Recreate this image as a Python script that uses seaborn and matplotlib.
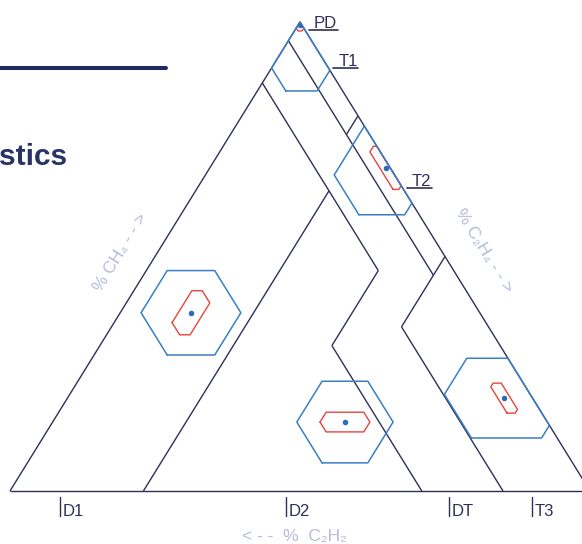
from itertools import combinations

import matplotlib
matplotlib.use("Agg")
import matplotlib.pyplot as plt
import numpy as np
import pandas as pd
import seaborn as sns
from matplotlib.patches import Polygon

# Duval triangle 1 zone limits (%)
T1_C2H4 = 20
T2_C2H4 = 50
T_C2H2 = 4
D1_C2H4 = 23
D_C2H2 = 13
D2_C2H4 = 40
D2_C2H2 = 29
T3_C2H2 = 15

# gas samples (% CH4, % C2H4, % C2H2)
samples = ["PD", "T2", "D1", "D2", "T3"]
ch4 = [99.4, 68.9, 38.0, 14.7, 19.8]
c2h4 = [0.3, 30.4, 12.2, 50.4, 75.3]
c2h2 = [0.3, 0.7, 49.8, 34.9, 4.9]

# uncertainty (+/- %), wide and narrow
err_out_ch4 = [14.1, 10.0, 9.0, 8.7, 8.5]
err_out_c2h4 = [10.0, 8.2, 8.6, 8.3, 10.7]
err_out_c2h2 = [9.5, 9.7, 8.6, 8.3, 9.9]
err_in_ch4 = [1.3, 4.6, 4.7, 2.1, 3.2]
err_in_c2h4 = [1.0, 4.5, 2.2, 4.3, 3.5]
err_in_c2h2 = [1.0, 1.1, 4.3, 4.3, 1.1]

zone_labels = ["D1", "D2", "DT", "T3"]
zone_label_x = [60, 286, 449, 532]

DARK = "#2d3058"
BLUE = "#3a7fc6"
RED = "#e6453c"
LIGHT = "#b3bcdb"


def tern(a, b, c):
    # a = CH4 (top), b = C2H4 (right), c = C2H2 (left)
    a = np.asarray(a, float) / 100
    b = np.asarray(b, float) / 100
    return b + a / 2, a


def pix(px, py):
    return (px - 10) / 580, (491 - py) / 469


def hexagon(center, err):
    lo = [max(0.0, c - e) for c, e in zip(center, err)]
    hi = [min(100.0, c + e) for c, e in zip(center, err)]
    # constraints in (u=CH4, v=C2H4): A @ [u, v] <= b
    A = [(-1, 0), (1, 0), (0, -1), (0, 1), (1, 1), (-1, -1)]
    B = [-lo[0], hi[0], -lo[1], hi[1], 100 - lo[2], hi[2] - 100]
    pts = []
    for i, j in combinations(range(6), 2):
        M = np.array([A[i], A[j]], float)
        if abs(np.linalg.det(M)) < 1e-9:
            continue
        p = np.linalg.solve(M, [B[i], B[j]])
        if all(np.dot(A[k], p) <= B[k] + 1e-7 for k in range(6)):
            if not any(np.allclose(p, q) for q in pts):
                pts.append(p)
    pts = np.array(pts)
    x, y = tern(pts[:, 0], pts[:, 1], 100 - pts[:, 0] - pts[:, 1])
    cx, cy = x.mean(), y.mean()
    order = np.argsort(np.arctan2((y - cy) * 469, (x - cx) * 580))
    x, y = x[order], y[order]
    return np.append(x, x[0]), np.append(y, y[0])


sns.set_theme(style="white")
plt.rcParams["font.family"] = ["Liberation Sans", "DejaVu Sans"]

fig = plt.figure(figsize=(5.82, 5.44), dpi=100)
ax = fig.add_axes([0, 0, 1, 1])
ax.set_xlim(pix(0, 0)[0], pix(582, 0)[0])
ax.set_ylim(pix(0, 544)[1], pix(0, 0)[1])
ax.axis("off")

# triangle and zone boundaries
segments = [
    ((100, 0, 0), (0, 0, 100)),
    ((100, 0, 0), (0, 100, 0)),
    ((0, 0, 100), (0, 100, 0)),
    ((100 - D_C2H2, 0, D_C2H2), (100 - D_C2H2 - D2_C2H4, D2_C2H4, D_C2H2)),
    ((100 - D_C2H2 - D1_C2H4, D1_C2H4, D_C2H2), (0, D1_C2H4, 100 - D1_C2H4)),
    ((100 - D_C2H2 - D2_C2H4, D2_C2H4, D_C2H2), (100 - D2_C2H2 - D2_C2H4, D2_C2H4, D2_C2H2)),
    ((100 - D2_C2H2 - D2_C2H4, D2_C2H4, D2_C2H2), (0, 100 - D2_C2H2, D2_C2H2)),
    ((100 - T_C2H2, 0, T_C2H2), (100 - T_C2H2 - T2_C2H4, T2_C2H4, T_C2H2)),
    ((100 - T1_C2H4, T1_C2H4, 0), (100 - T1_C2H4 - T_C2H2, T1_C2H4, T_C2H2)),
    ((100 - T2_C2H4, T2_C2H4, 0), (100 - T2_C2H4 - T3_C2H2, T2_C2H4, T3_C2H2)),
    ((100 - T2_C2H4 - T3_C2H2, T2_C2H4, T3_C2H2), (0, 100 - T3_C2H2, T3_C2H2)),
]
for p, q in segments:
    x, y = tern(*zip(p, q))
    ax.plot(x, y, color=DARK, lw=1.0, zorder=1, solid_capstyle="butt")

# uncertainty hexagons
for i in range(len(samples)):
    c = (ch4[i], c2h4[i], c2h2[i])
    hx, hy = hexagon(c, (err_out_ch4[i], err_out_c2h4[i], err_out_c2h2[i]))
    ax.plot(hx, hy, color=BLUE, lw=1.1, zorder=3)
    hx, hy = hexagon(c, (err_in_ch4[i], err_in_c2h4[i], err_in_c2h2[i]))
    ax.plot(hx, hy, color=RED, lw=1.0, zorder=2)

px_, py_ = tern(ch4, c2h4, c2h2)
df = pd.DataFrame({"sample": samples, "x": px_, "y": py_})
sns.scatterplot(data=df, x="x", y="y", color="#2c6db3", s=16, linewidth=0,
                zorder=4, ax=ax, legend=False)
tri_x, tri_y = tern([100, 0, 0], [0, 100, 0], [0, 0, 100])
clip = Polygon(np.column_stack([tri_x, tri_y]), closed=True, transform=ax.transData,
               facecolor="none", edgecolor="none")
ax.add_patch(clip)
ax.collections[-1].set_clip_path(clip)

# zone labels with underline (top) and ticks (bottom)
top_labels = [("PD", 314, 27.5, 309, 338, 29.5),
              ("T1", 339, 65.5, 333, 358, 68),
              ("T2", 412, 185.5, 407, 432, 188)]
for txt, tx, ty, ux0, ux1, uy in top_labels:
    ax.text(*pix(tx, ty), txt, fontsize=12, color=DARK, va="baseline", ha="left")
    (x0, y0), (x1, _) = pix(ux0, uy), pix(ux1, uy)
    ax.plot([x0, x1], [y0, y0], color=DARK, lw=1.2)

for lab, lx in zip(zone_labels, zone_label_x):
    (x0, y0), (_, y1) = pix(lx, 497), pix(lx, 516)
    ax.plot([x0, x0], [y0, y1], color=DARK, lw=1.0)
    ax.text(*pix(lx + 2.5, 516), lab, fontsize=12, color=DARK, va="baseline", ha="left")

# axis titles
ang = np.degrees(np.arctan2(469, 290))
ax.text(*pix(121, 252), "% CH\u2084 - - >", rotation=ang, rotation_mode="anchor",
        ha="center", va="center", fontsize=12.5, color=LIGHT)
ax.text(*pix(484, 251), "% C\u2082H\u2084 - - >", rotation=-ang, rotation_mode="anchor",
        ha="center", va="center", fontsize=12.5, color=LIGHT)
ax.text(*pix(294, 536), "< - -  %  C\u2082H\u2082", ha="center", va="center",
        fontsize=12.5, color=LIGHT)

# page header fragments
ax.axhline(pix(0, 68)[1], xmin=0, xmax=166 / 582, color="#1f2b5e", lw=2.9)
fig.text(-0.002, 1 - 165 / 544, "stics", fontsize=21.5, fontweight="bold",
         color="#28336a", ha="left", va="baseline")

fig.savefig("out.png", dpi=100)
plt.close(fig)
